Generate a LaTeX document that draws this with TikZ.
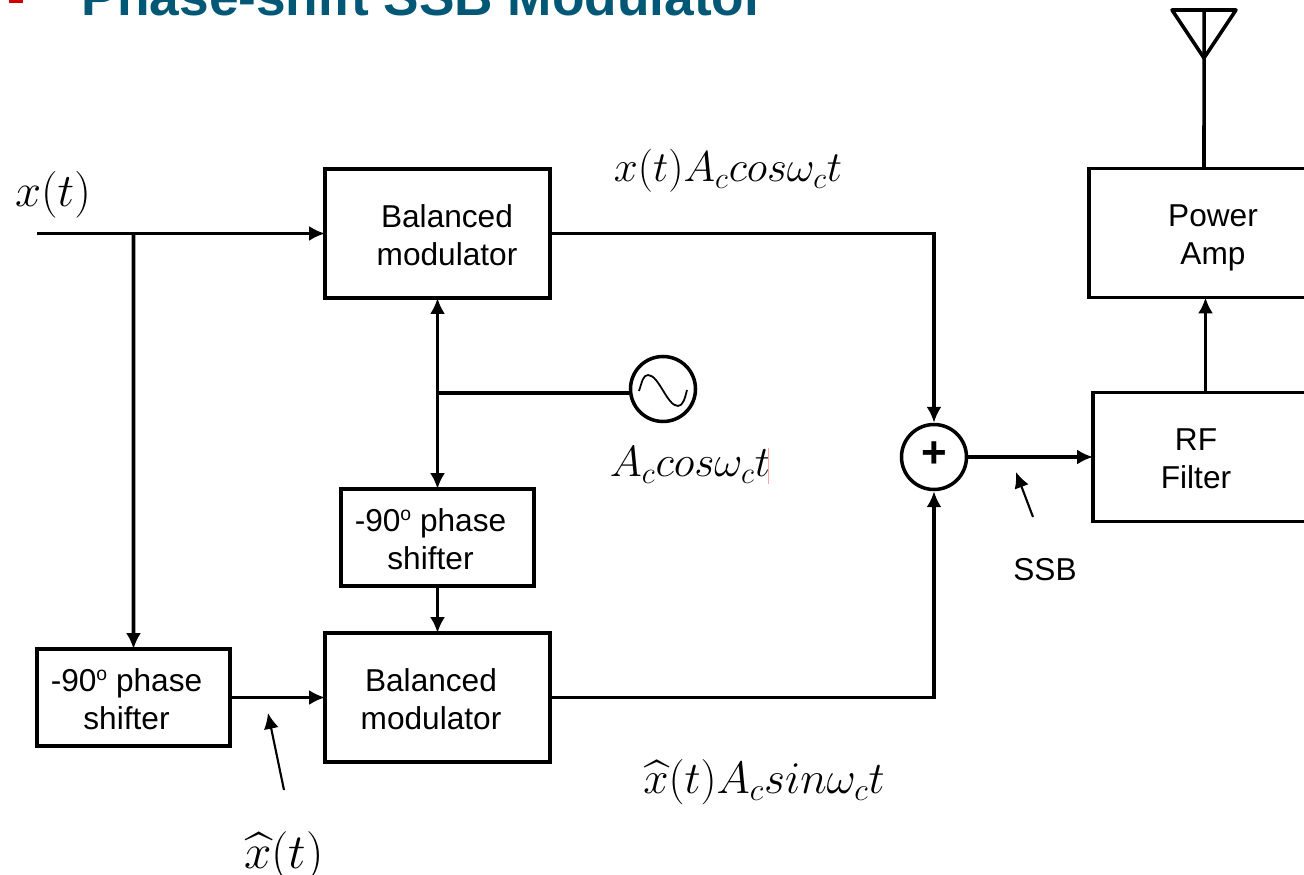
\documentclass[tikz,border=0pt]{standalone}
\usepackage[no-math]{fontspec}
\usepackage{fix-cm}
\usepackage{amsmath}
\usepackage{amssymb}
\setmainfont{Liberation Sans}
\definecolor {titleblue}{RGB}{0,87,118}
\newcommand{\degsup}{\raisebox{0.62ex}{\fontsize{11}{11}\selectfont o}}
\usetikzlibrary {positioning,arrows.meta}

\begin{document}
\begin{tikzpicture}[>={Latex[length=9pt,width=8.5pt]} ,-> ,auto ,node distance =3 cm and 3cm ,on grid ,
line width =2pt ,
block/.style ={ rectangle ,draw ,line width =1.75pt ,outer sep =0pt ,inner sep =0pt ,minimum width =4.5 cm ,minimum height =2.58 cm},
phase/.style ={ block ,minimum width =3.86 cm ,minimum height =1.94 cm},
circ/.style ={ circle ,draw ,inner sep =0pt ,minimum size =1.3 cm},
blocktext/.style ={ align =center ,inner sep =0pt ,yshift =-0.03 cm ,font =\fontsize{18}{21.6}\selectfont},
mathtext/.style ={ inner sep =0pt},
pointer/.style ={ line width =1.2pt}]
  \clip (0,0) rectangle (26.08,17.48);
  \node[inner sep=0pt,anchor=base west,text=titleblue,font=\fontsize{30.3}{36}\selectfont\bfseries](title) at (1.6,17.16){Phase-shift SSB Modulator};
  \fill[red!80!black] (0.18,17.42) rectangle (0.46,17.48);
  \coordinate (input) at (0.74,12.81);
  \coordinate (branch) at (2.67,12.81);
  \node[block](mod1) at (8.75,12.81){};
  \node[phase](shift1)[below = 6.08 of mod1]{};
  \node[block](mod2)[below = 3.2 of shift1]{};
  \node[phase](shift2)[left = 6.08 of mod2]{};
  \node[circ](sum)[below right = 4.47 and 9.93 of mod1]{};
  \node[circ](osc)[below right = 3.11 and 4.51 of mod1]{};
  \node[block](rf)[right = 5.43 of sum]{};
  \node[block,minimum width=4.6 cm](power)[above = 4.48 of rf,xshift=-0.03cm]{};
  % texts of the boxes sit off centre
  \node[blocktext](mod1text)[right = 0.19 of mod1]{Balanced\\modulator};
  \node[blocktext](mod2text)[left = 0.13 of mod2]{Balanced\\modulator};
  \node[blocktext](shift1text)[left = 0.14 of shift1]{-90\degsup{} phase\\shifter};
  \node[blocktext](shift2text)[left = 0.14 of shift2]{-90\degsup{} phase\\shifter};
  \node[blocktext](rftext)[left = 0.19 of rf]{RF\\Filter};
  \node[blocktext,yshift=-0.07cm](powertext)[right = 0.18 of power]{Power\\Amp};
  \node[inner sep=0pt,yshift=0.04cm,font=\fontsize{25}{30}\selectfont\bfseries](plus) at (sum){+};
  \node[mathtext,font=\fontsize{26.6}{30}\selectfont](xlabel)[above left = 0.78 and 7.69 of mod1]{$x(t)$};
  \node[mathtext,font=\fontsize{24.5}{28}\selectfont](cosout)[above right = 1.25 and 5.81 of mod1]{$x(t)A_c cos\omega_c t$};
  \node[mathtext,font=\fontsize{24.8}{28}\selectfont](cosin)[below right = 1.52 and 0.54 of osc]{$A_c cos\omega_c t$};
  \node[mathtext,font=\fontsize{25.8}{30}\selectfont](sinout)[below right = 1.7 and 6.53 of mod2]{$\widehat{x}(t)A_c sin\omega_c t$};
  \node[mathtext,font=\fontsize{28}{32}\selectfont](xhat)[below right = 3.18 and 3.01 of shift2]{$\widehat{x}(t)$};
  \node[blocktext](ssb)[below right = 2.22 and 2.22 of sum]{SSB};
  \coordinate (lo) at (8.75,9.62);
  \coordinate (ssbfrom) at (20.66,7.14);
  \coordinate (ssbto) at (20.32,8.04);
  \coordinate (xhatfrom) at (5.68,1.68);
  \coordinate (xhatto) at (5.36,3.22);
  \coordinate (mast) at (24.08,17.28);
  \path (input) edge (mod1);
  \path (branch) edge (shift2);
  \path (shift2) edge (mod2);
  \draw (mod1) -| (sum);
  \draw (mod2) -| (sum);
  \path (sum) edge (rf);
  \path (rf.north) edge (power.south -| rf.north);
  \path (shift1) edge (mod2);
  \draw[<->] (mod1) -- (shift1);
  \draw[-] (osc.west |- lo) -- (lo);
  \draw[-] (power.north) -- (mast);
  \draw[-,line join=round] (mast) ++(-0.64,0) -- ++(1.28,0) -- ++(-0.64,-0.96) -- cycle;
  \draw[-,line width=1pt] (osc) ++(-0.48,-0.04) .. controls +(0.06,0.18) and +(-0.1,0) .. ++(0.18,0.32) .. controls +(0.22,0) and +(-0.22,0) .. ++(0.6,-0.62) .. controls +(0.1,0) and +(-0.04,-0.16) .. ++(0.18,0.32);
  \draw[pointer] (ssbfrom) -- (ssbto);
  \draw[pointer] (xhatfrom) -- (xhatto);
  \draw[-,red!35,line width=0.5pt] (15.36,7.8) -- (15.36,8.52);
\end{tikzpicture}
\end{document}
